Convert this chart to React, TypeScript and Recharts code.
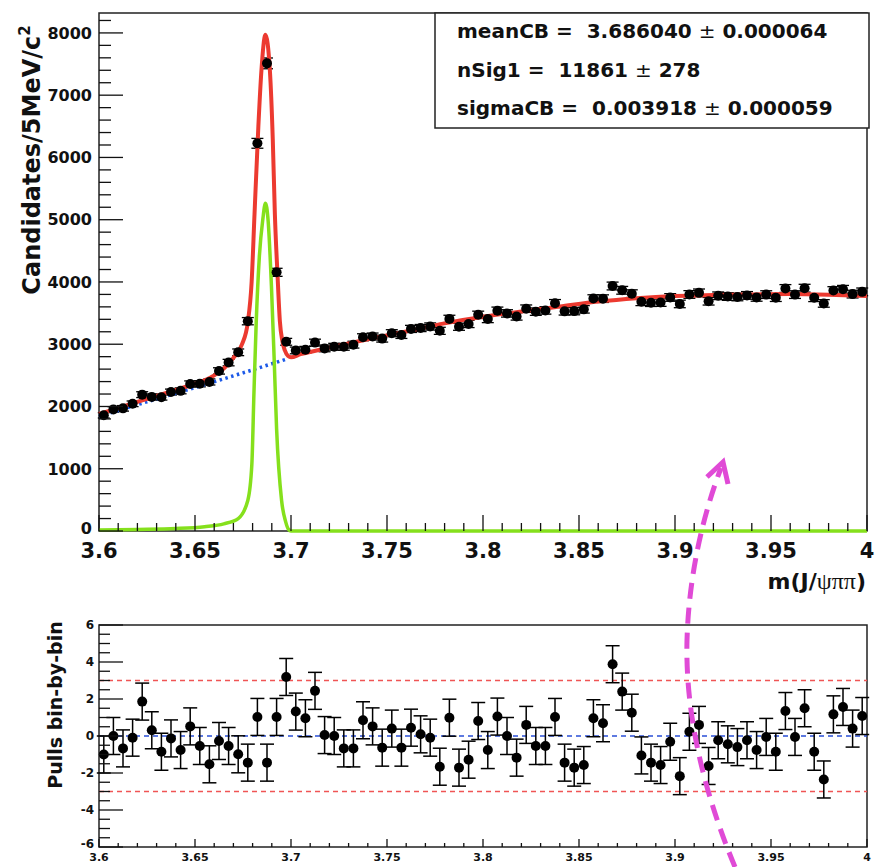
import React from 'react'
import {
  ComposedChart,
  Line,
  Scatter,
  ErrorBar,
  XAxis,
  YAxis,
  ReferenceLine,
  ReferenceArea,
} from 'recharts'

const BIN_LO = 3.6
const BIN_W = 0.005

// candidates per 5 MeV bin, 3.600 -> 4.000
const counts = [
  1858, 1953, 1970, 2043, 2190, 2154, 2149, 2232, 2251, 2362,
  2364, 2394, 2571, 2705, 2870, 3370, 6227, 7511, 4155, 3039,
  2900, 2911, 3026, 2933, 2960, 2958, 2993, 3112, 3124, 3090,
  3177, 3149, 3246, 3260, 3285, 3215, 3407, 3281, 3325, 3472,
  3405, 3537, 3495, 3446, 3571, 3523, 3543, 3657, 3528, 3532,
  3560, 3733, 3732, 3935, 3866, 3812, 3681, 3667, 3669, 3751,
  3647, 3799, 3825, 3690, 3778, 3766, 3759, 3784, 3752, 3797,
  3748, 3895, 3797, 3900, 3746, 3655, 3862, 3882, 3805, 3841,
]

// bin-by-bin pulls
const pulls = [
  -1.0, 0.0, -0.67, -0.09, 1.86, 0.31, -0.85, -0.13, -0.76, 0.52,
  -0.54, -1.53, -0.27, -0.54, -0.99, -1.44, 1.03, -1.44, 1.03, 3.19,
  1.32, 0.96, 2.44, 0.05, 0.0, -0.67, -0.67, 0.85, 0.52, -0.63,
  0.4, -0.63, 0.45, 0.09, -0.09, -1.66, 0.99, -1.71, -1.28, 0.81,
  -0.76, 1.05, 0.0, -1.17, 0.6, -0.54, -0.54, 1.03, -1.44, -1.71,
  -1.57, 0.96, 0.69, 3.88, 2.4, 1.26, -1.05, -1.44, -1.57, -0.31,
  -2.17, 0.23, 0.6, -1.62, -0.23, -0.45, -0.6, -0.23, -0.76, -0.05,
  -0.85, 1.35, -0.05, 1.5, -0.85, -2.35, 1.17, 1.57, 0.4, 1.08,
]

// total fit (red)
const fitX = [
  3.6, 3.61, 3.62, 3.63, 3.64, 3.65, 3.655, 3.66, 3.665, 3.67, 3.6745, 3.6775,
  3.6795, 3.681, 3.683, 3.6846, 3.6867, 3.689, 3.6905, 3.6916, 3.693, 3.6942,
  3.6955, 3.6968, 3.6985, 3.7, 3.705, 3.71, 3.72, 3.74, 3.76, 3.78, 3.8, 3.82,
  3.84, 3.86, 3.88, 3.9, 3.92, 3.94, 3.96, 3.98, 4.0,
]
const fitY = [
  1880, 1975, 2075, 2170, 2265, 2365, 2420, 2500, 2610, 2780, 3000, 3350,
  4000, 5090, 6500, 7400, 7970, 7400, 6300, 5090, 4100, 3370,
  3050, 2900, 2810, 2790, 2840, 2875, 2945, 3080, 3205, 3335, 3440, 3525,
  3605, 3685, 3740, 3775, 3790, 3800, 3805, 3795, 3775,
]

// signal component (green)
const sigX = [
  3.6, 3.62, 3.64, 3.655, 3.665, 3.6725, 3.6775, 3.6796, 3.6807, 3.6819, 3.6835,
  3.6853, 3.6867, 3.6881, 3.6898, 3.6912, 3.6925, 3.6951, 3.6972, 3.6986, 3.7,
  3.8, 3.9, 4.0,
]
const sigY = [
  15, 25, 40, 70, 115, 200, 490, 1065, 2216, 3367, 4400,
  5000, 5266, 4978, 3940, 2790, 1640, 490, 150, 30, 0,
  0, 0, 0,
]

// background component (blue dotted)
const bkgX = [3.6, 3.625, 3.65, 3.675, 3.6985]
const bkgY = [1840, 2075, 2305, 2540, 2770]

const massTicks = [3.6, 3.65, 3.7, 3.75, 3.8, 3.85, 3.9, 3.95, 4]
const countTicks = [0, 1000, 2000, 3000, 4000, 5000, 6000, 7000, 8000]
const pullTicks = [-6, -4, -2, 0, 2, 4, 6]

const fitParams = [
  { name: 'meanCB', value: '3.686040', error: '0.000064' },
  { name: 'nSig1', value: '11861', error: '278' },
  { name: 'sigmaCB', value: '0.003918', error: '0.000059' },
]

const FONT = "'DejaVu Sans', 'Liberation Sans', sans-serif"
const INK = '#111'

const binCenter = (i: number) => +(BIN_LO + BIN_W * (i + 0.5)).toFixed(4)
const zip = (xs: number[], ys: number[]) => xs.map((x, i) => ({ x, y: ys[i] }))

const histData = counts.map((n, i) => ({ x: binCenter(i), y: n, e: Math.sqrt(n) }))
const pullData = pulls.map((p, i) => ({ x: binCenter(i), y: p, e: 1 }))
const fitData = zip(fitX, fitY)
const sigData = zip(sigX, sigY)
const bkgData = zip(bkgX, bkgY)

// minor tick grids (ROOT style, ticks drawn inside the frame)
const massMinor = Array.from({ length: 41 }, (_, i) => (360 + i) / 100)
const countMinor = Array.from({ length: 42 }, (_, i) => i * 200)
const pullMinor = Array.from({ length: 25 }, (_, i) => -6 + i * 0.5)

const isIn = (list: number[], v: number) => list.some((t) => Math.abs(t - v) < 1e-6)
const fmtMass = (v: number) => String(Number(v.toFixed(2)))

function makeXTick(major: number, minor: number, fontSize: number, dy: number) {
  return (props: any) => {
    const { x, y, payload } = props
    const big = isIn(massTicks, payload.value)
    return (
      <g>
        <line x1={x} x2={x} y1={y} y2={y - (big ? major : minor)} stroke={INK} strokeWidth={1.3} />
        {big && (
          <text x={x} y={y + dy} textAnchor="middle" fontFamily={FONT} fontWeight="bold" fontSize={fontSize} fill={INK}>
            {fmtMass(payload.value)}
          </text>
        )}
      </g>
    )
  }
}

function makeYTick(labels: number[], major: number, minor: number, fontSize: number, gap: number, lift = 0) {
  return (props: any) => {
    const { x, y, payload } = props
    const big = isIn(labels, payload.value)
    const v = payload.value
    return (
      <g>
        <line x1={x} x2={x + (big ? major : minor)} y1={y} y2={y} stroke={INK} strokeWidth={1.3} />
        {big && (
          <text x={x - gap} y={y - (v === labels[0] ? lift : 0)} dy="0.36em" textAnchor="end" fontFamily={FONT} fontWeight="bold" fontSize={fontSize} fill={INK}>
            {v}
          </text>
        )}
      </g>
    )
  }
}

const Dot = (r: number) => (props: any) => <circle cx={props.cx} cy={props.cy} r={r} fill="#000" />

function MassPlot() {
  return (
    <ComposedChart width={877} height={600} margin={{ top: 13, right: 10, bottom: 29, left: 0 }}>
      <XAxis
        dataKey="x"
        type="number"
        domain={[3.6, 4]}
        ticks={massMinor}
        interval={0}
        axisLine={false}
        tickLine={false}
        tickSize={0}
        tickMargin={0}
        height={40}
        tick={makeXTick(16, 8, 21, 27)}
      />
      <YAxis
        type="number"
        domain={[0, 8320]}
        ticks={countMinor}
        interval={0}
        axisLine={false}
        tickLine={false}
        tickSize={0}
        tickMargin={0}
        width={99}
        tick={makeYTick(countTicks, 24, 12, 16, 7, 3)}
      />
      <Scatter data={histData} dataKey="y" shape={Dot(5)} isAnimationActive={false}>
        <ErrorBar dataKey="e" direction="y" width={6} stroke="#000" strokeWidth={1.3} />
      </Scatter>
      <Line data={bkgData} dataKey="y" type="monotone" stroke="#1d5ae8" strokeWidth={3.5} strokeDasharray="2.5 3.5" dot={false} isAnimationActive={false} />
      <Line data={sigData} dataKey="y" type="monotone" stroke="#85e01c" strokeWidth={3.5} dot={false} isAnimationActive={false} />
      <Line data={fitData} dataKey="y" type="monotone" stroke="#ec3a30" strokeWidth={4} dot={false} isAnimationActive={false} />
      <ReferenceArea x1={3.6} x2={4} y1={0} y2={8320} fill="none" stroke="#222" strokeWidth={1.5} ifOverflow="visible" />
    </ComposedChart>
  )
}

function PullPlot() {
  return (
    <ComposedChart width={877} height={267} margin={{ top: 25, right: 10, bottom: 0, left: 0 }}>
      <XAxis
        dataKey="x"
        type="number"
        domain={[3.6, 4]}
        ticks={massMinor}
        interval={0}
        axisLine={false}
        tickLine={false}
        tickSize={0}
        tickMargin={0}
        height={20}
        tick={makeXTick(8, 4, 11, 14)}
      />
      <YAxis
        type="number"
        domain={[-6, 6]}
        ticks={pullMinor}
        interval={0}
        axisLine={false}
        tickLine={false}
        tickSize={0}
        tickMargin={0}
        width={99}
        tick={makeYTick(pullTicks, 24, 11, 12, 5, 3)}
      />
      <ReferenceLine y={3} stroke="#f05555" strokeWidth={1.3} strokeDasharray="5 4" />
      <ReferenceLine y={-3} stroke="#f05555" strokeWidth={1.3} strokeDasharray="5 4" />
      <ReferenceLine y={0} stroke="#2a4fd6" strokeWidth={1.3} strokeDasharray="5 4" />
      <Scatter data={pullData} dataKey="y" shape={Dot(5)} isAnimationActive={false}>
        <ErrorBar dataKey="e" direction="y" width={7} stroke="#000" strokeWidth={1.5} />
      </Scatter>
      <ReferenceArea x1={3.6} x2={4} y1={-6} y2={6} fill="none" stroke="#222" strokeWidth={1.5} ifOverflow="visible" />
    </ComposedChart>
  )
}

function Overlay() {
  return (
    <svg width={877} height={867} style={{ position: 'absolute', left: 0, top: 0, pointerEvents: 'none' }}>
      {/* fit result box */}
      <rect x={435} y={13} width={434} height={115} fill="#fff" stroke="#222" strokeWidth={1.5} />
      {fitParams.map((p, i) => (
        <text key={p.name} x={457} y={38 + i * 38.5} fontFamily={FONT} fontWeight="bold" fontSize={20} fill={INK} style={{ whiteSpace: 'pre' }}>
          {`${p.name} =  ${p.value} `}
          <tspan fontWeight="normal">±</tspan>
          {` ${p.error}`}
        </text>
      ))}

      {/* axis titles */}
      <text transform="translate(40,160) rotate(-90)" textAnchor="middle" fontFamily={FONT} fontWeight="bold" fontSize={24} fill={INK}>
        Candidates/5MeV/c<tspan dy={-10} fontSize={15}>2</tspan>
      </text>
      <text x={866} y={589} textAnchor="end" fontFamily={FONT} fontWeight="bold" fontSize={22} fill={INK}>
        m(J/<tspan fontFamily="'Liberation Serif', serif" fontWeight="normal" fontSize={24}>ψππ</tspan>)
      </text>
      <text transform="translate(62,705) rotate(-90)" textAnchor="middle" fontFamily={FONT} fontWeight="bold" fontSize={19} fill={INK}>
        Pulls bin-by-bin
      </text>

      {/* annotation arrow */}
      <path
        d="M735,867 C707,800 685,720 687,640 C689,570 705,510 721,468"
        fill="none"
        stroke="#e04ad6"
        strokeWidth={5}
        strokeDasharray="16 9"
      />
      <polyline points="707,477 723,462 728,484" fill="none" stroke="#e04ad6" strokeWidth={5} strokeLinejoin="miter" />
    </svg>
  )
}

export default function App() {
  return (
    <div style={{ position: 'absolute', left: 0, top: 0, width: 877, height: 867, background: '#fff' }}>
      <div style={{ position: 'absolute', left: 0, top: 0 }}>
        <MassPlot />
      </div>
      <div style={{ position: 'absolute', left: 0, top: 600 }}>
        <PullPlot />
      </div>
      <Overlay />
    </div>
  )
}
